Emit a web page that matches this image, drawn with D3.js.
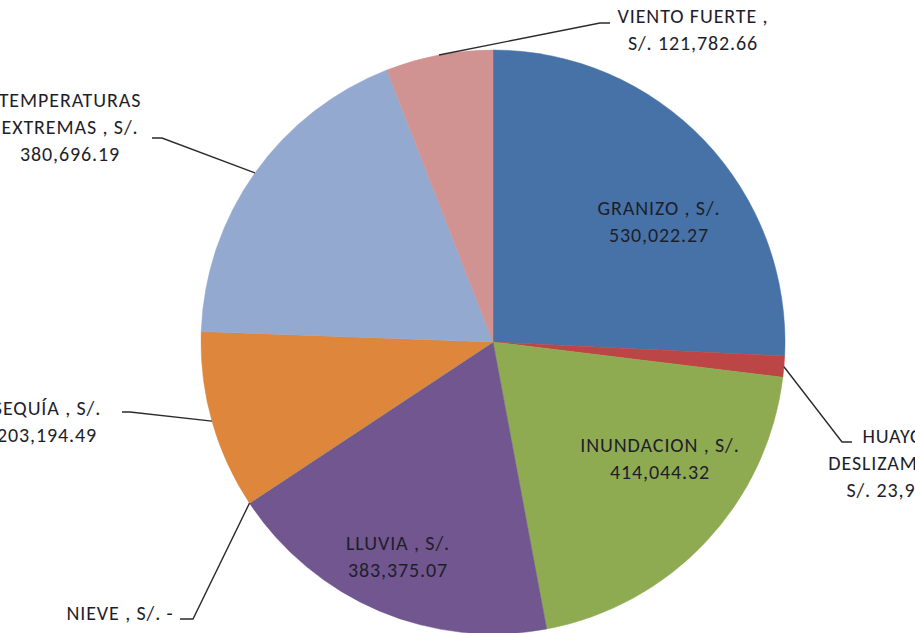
<!DOCTYPE html>
<html>
<head>
<meta charset="utf-8">
<script src="https://cdn.jsdelivr.net/npm/d3@7"></script>
<style>
  body { margin: 0; background: #fff; overflow: hidden; }
  text { font-family: Carlito, Lato, "Open Sans", sans-serif; font-size: 20px; letter-spacing: 0.9px; fill: #1e1e2a; }
</style>
</head>
<body>
<div id="wrapper"></div>
<script>

// data (S/.)
const categories = ["GRANIZO", "HUAYCO / DESLIZAMIENTO", "INUNDACION", "LLUVIA", "NIEVE", "SEQUÍA", "TEMPERATURAS EXTREMAS", "VIENTO FUERTE"]
const values = [530022.27, 23950.00, 414044.32, 383375.07, 0, 203194.49, 380696.19, 121782.66]
const colors = ["#4672a8", "#bc4645", "#8eab52", "#71568f", "#4bacc6", "#dd863c", "#93a9d0", "#d19391"]

// label text, line by line
const labelLines = [
    ["GRANIZO ,  S/.", "530,022.27"],
    ["HUAYCO /", "DESLIZAMIENTO ,", "S/. 23,950.00"],
    ["INUNDACION ,  S/.", "414,044.32"],
    ["LLUVIA ,  S/.", "383,375.07"],
    ["NIEVE ,  S/. -"],
    ["SEQUÍA ,  S/.", "203,194.49"],
    ["TEMPERATURAS", "EXTREMAS ,  S/.", "380,696.19"],
    ["VIENTO FUERTE ,", "S/. 121,782.66"],
]

async function drawPie() {

    let dimensions = {
        width: 915,
        height: 633,
        cx: 493,
        cy: 342,
        radius: 292,
        lineHeight: 27,
    }

    // where Excel put each label: text centre x, first baseline y, and the leader elbow
    const labelLayout = [
        {x: 659, y: 215},
        {x: 906, y: 443, elbow: [842, 442], end: [852, 442]},
        {x: 660, y: 452},
        {x: 398, y: 550},
        {x: 120, y: 620, elbow: [193, 619], end: [180, 619]},
        {x: 47, y: 415, elbow: [130, 412], end: [122, 412]},
        {x: 70, y: 107, elbow: [162, 138], end: [152, 138]},
        {x: 693, y: 23, elbow: [600, 23], end: [610, 23]},
    ]

    const wrapper = d3.select("#wrapper")
        .append("svg")
        .attr("width", dimensions.width)
        .attr("height", dimensions.height)

    const bounds = wrapper.append("g")
        .attr("transform", `translate(${dimensions.cx}, ${dimensions.cy})`)

    const pieData = d3.pie()
        .sort(null)
        .value(d => d.value)(categories.map((c, i) => ({name: c, value: values[i], i: i})))

    const arc = d3.arc()
        .innerRadius(0)
        .outerRadius(dimensions.radius)

    const edgeArc = d3.arc()
        .innerRadius(dimensions.radius)
        .outerRadius(dimensions.radius)

    // slices
    bounds.append("g")
        .selectAll("path")
        .data(pieData)
        .enter()
        .append("path")
        .attr("d", arc)
        .attr("fill", d => colors[d.data.i])
        .attr("stroke", d => colors[d.data.i])
        .attr("stroke-width", 0.5)

    // leader lines (only for labels that sit outside)
    const outside = pieData.filter(d => labelLayout[d.data.i].elbow)
    bounds.append("g")
        .selectAll("polyline")
        .data(outside)
        .enter()
        .append("polyline")
        .attr("fill", "none")
        .attr("stroke", "#2b2b2b")
        .attr("stroke-width", 1.4)
        .attr("points", d => {
            const p = edgeArc.centroid(d)
            const l = labelLayout[d.data.i]
            return [p,
                [l.elbow[0] - dimensions.cx, l.elbow[1] - dimensions.cy],
                [l.end[0] - dimensions.cx, l.end[1] - dimensions.cy]].join(" ")
        })

    // labels
    const labels = wrapper.append("g")
        .selectAll("text")
        .data(pieData)
        .enter()
        .append("text")
        .attr("text-anchor", "middle")
        .attr("x", d => labelLayout[d.data.i].x)
        .attr("y", d => labelLayout[d.data.i].y)

    labels.selectAll("tspan")
        .data(d => labelLines[d.data.i].map(t => ({t: t, x: labelLayout[d.data.i].x})))
        .enter()
        .append("tspan")
        .attr("x", d => d.x)
        .attr("dy", (d, j) => j == 0 ? 0 : dimensions.lineHeight)
        .text(d => d.t)
}
drawPie()
</script>
</body>
</html>
